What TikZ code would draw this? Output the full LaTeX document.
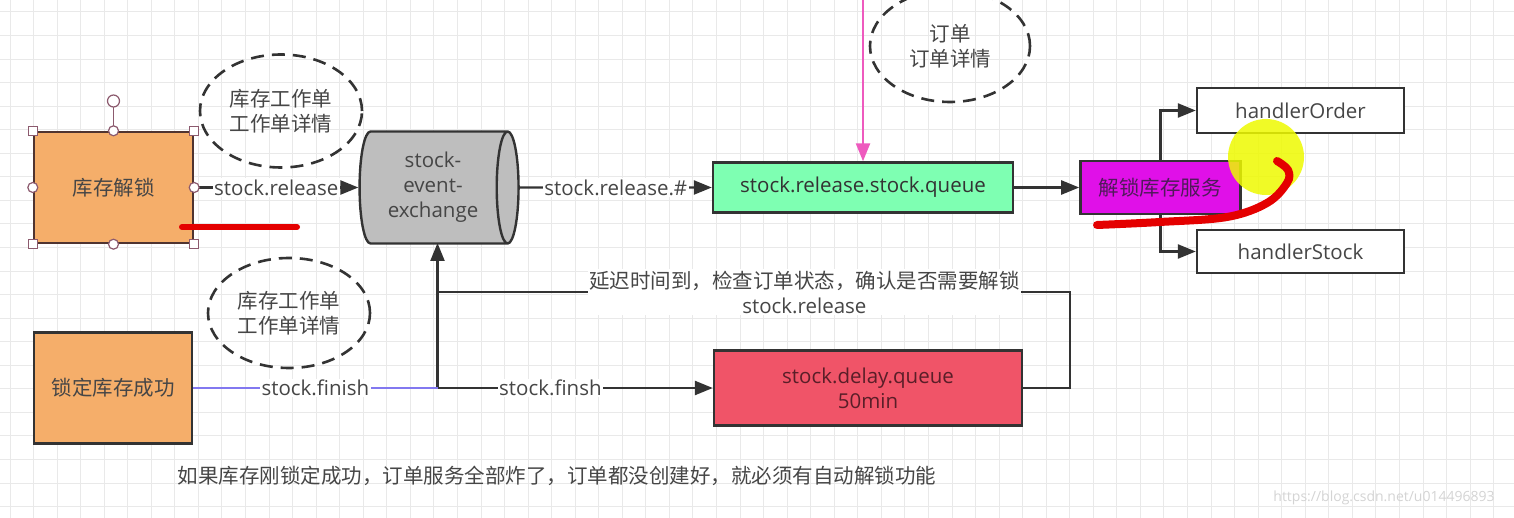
\documentclass[tikz,border=0pt]{standalone}
\usepackage{fontspec}
\setmainfont{Open Sans}
\newfontfamily\cjk{Noto Sans CJK SC}
\usepackage{tikz}
\usetikzlibrary{arrows.meta,positioning,shapes.geometric}

\definecolor{ink}{RGB}{51,51,51}
\definecolor{txt}{RGB}{70,70,70}
\definecolor{gridgray}{RGB}{233,233,233}
\definecolor{boxorange}{RGB}{245,174,106}
\definecolor{boxedge}{RGB}{80,52,48}
\definecolor{exgray}{RGB}{190,190,190}
\definecolor{mint}{RGB}{126,255,178}
\definecolor{magbox}{RGB}{224,16,232}
\definecolor{magtext}{RGB}{80,26,90}
\definecolor{qred}{RGB}{240,84,104}
\definecolor{qredtext}{RGB}{90,30,40}
\definecolor{hotpink}{RGB}{238,90,190}
\definecolor{finishblue}{RGB}{130,120,240}
\definecolor{handle}{RGB}{140,90,110}
\definecolor{marker}{RGB}{228,0,0}
\definecolor{hilite}{RGB}{238,250,0}
\definecolor{wmgray}{RGB}{212,212,212}

\begin{document}
\begin{tikzpicture}[x=1pt,y=-1pt,
    font=\fontsize{20.5}{25}\selectfont,
    zh/.style={font=\cjk\fontsize{20.5}{25}\selectfont},
    box/.style={rectangle,draw=ink,line width=2.4,inner sep=0,text=txt,align=center},
    bubble/.style={ellipse,draw=ink,line width=2.6,dash pattern=on 13pt off 8pt,
                   inner sep=0,text=txt,align=center,zh},
    line/.style={draw=ink,line width=2.4},
    flow/.style={line,-{Triangle[length=18,width=14]}},
    lbl/.style={fill=white,inner sep=1.5pt,text=txt},
    hsq/.style={draw=handle,fill=white,line width=1.2,minimum size=9,inner sep=0},
    hcirc/.style={circle,draw=handle,fill=white,line width=1.2,minimum size=10,inner sep=0}]

    % canvas and grid
    \useasboundingbox (0,0) rectangle (1514,518);
    \fill[white] (0,0) rectangle (1514,518);
    \foreach \i in {0,...,64}
      \draw[gridgray,line width=1] ({10+23.55*\i},0) -- ++(0,518);
    \foreach \j in {0,...,21}
      \draw[gridgray,line width=1] (0,{12+23.55*\j}) -- ++(1514,0);

    % nodes
    \node[box,fill=boxorange,draw=boxedge,minimum width=159,minimum height=111,zh] (unlock) at (113.5,187.5) {库存解锁};
    \node[box,fill=boxorange,minimum width=158,minimum height=111,zh] (locked) at (113,388) {锁定库存成功};
    \node[cylinder,draw=ink,line width=2.4,fill=exgray,aspect=0.31,minimum width=112,minimum height=159,
          inner sep=0,text=txt,align=center] (exch) at (433,187.5) {stock-\\event-\\exchange};
    \node[box,fill=mint,minimum width=300,minimum height=50,text=ink] (relq) at (863,187.5) {stock.release.stock.queue};
    \node[box,fill=magbox,minimum width=160,minimum height=53,text=magtext,zh] (svc) [right=65pt of relq] {解锁库存服务};
    \node[box,fill=white,minimum width=207,minimum height=45] (order) at (1300.5,110.5) {handlerOrder};
    \node[box,fill=white,minimum width=207,minimum height=43] (hstock) at (1300.5,251.5) {handlerStock};
    \node[box,fill=qred,minimum width=308,minimum height=75,text=qredtext] (delay) at (868,388) {stock.delay.queue\\50min};

    \node[bubble,minimum width=162,minimum height=113] (memo1) at (281,111) {库存工作单\\工作单详情};
    \node[bubble,minimum width=162,minimum height=110] (memo2) at (289,313) {库存工作单\\工作单详情};
    \node[bubble,minimum width=160,minimum height=112] (memo3) at (950,46) {订单\\订单详情};

    \coordinate (hub) at (437.5,388);
    \coordinate (turn) at (1070,292);
    \coordinate (merge) at (437.5,292);
    \coordinate (src) at (863,-4);
    \coordinate (intake) at (437.5,243);

    % connectors
    \path
      (unlock.east) edge[flow] node[lbl] {stock.release} (exch.west)
      (exch.east) edge[flow] node[lbl] {stock.release.\#} (relq.west)
      (relq.east) edge[flow] (svc.west)
      (hub) edge[flow] node[lbl,pos=0.41] {stock.finsh} (delay.west)
      (hub) edge[flow] (intake);
    \draw[flow] (svc.north) |- (order.west);
    \draw[flow] (svc.south) |- (hstock.west);
    \draw[flow,draw=hotpink] (src) -- (relq.north);
    \draw[finishblue,line width=2.4] (locked.east) -- node[lbl] {stock.finish} (hub);
    \draw[line] (delay.east) -| (turn) -- node[lbl,align=center,pos=0.42]
      {{\cjk 延迟时间到，检查订单状态，确认是否需要解锁}\\stock.release} (merge);

    % selection handles
    \foreach \a in {north west,north east,south west,south east}
      \node[hsq] at (unlock.\a) {};
    \draw[handle,line width=1.2] (unlock.north) -- ++(0,-25);
    \foreach \a in {north,south,west,east}
      \node[hcirc] at (unlock.\a) {};
    \node[hcirc,minimum size=12] (rot) at (113.5,101) {};

    % texts
    \node[zh,text=txt] (remark) at (557,476) {如果库存刚锁定成功，订单服务全部炸了，订单都没创建好，就必须有自动解锁功能};
    \node[text=wmgray,font=\fontsize{14}{16}\selectfont] (wm) at (1384,498) {https://blog.csdn.net/u014496893};

    % marks on top
    \fill[hilite,opacity=0.85] (1266,157) circle (38);
    \draw[marker,line width=6,line cap=round] (182,227) -- (297,227);
    \draw[marker,line width=8,line cap=round] plot[smooth,tension=0.6] coordinates
      {(1097,225) (1160,222) (1227,217) (1267,203) (1287,183) (1288,170) (1277,161)};
\end{tikzpicture}
\end{document}
